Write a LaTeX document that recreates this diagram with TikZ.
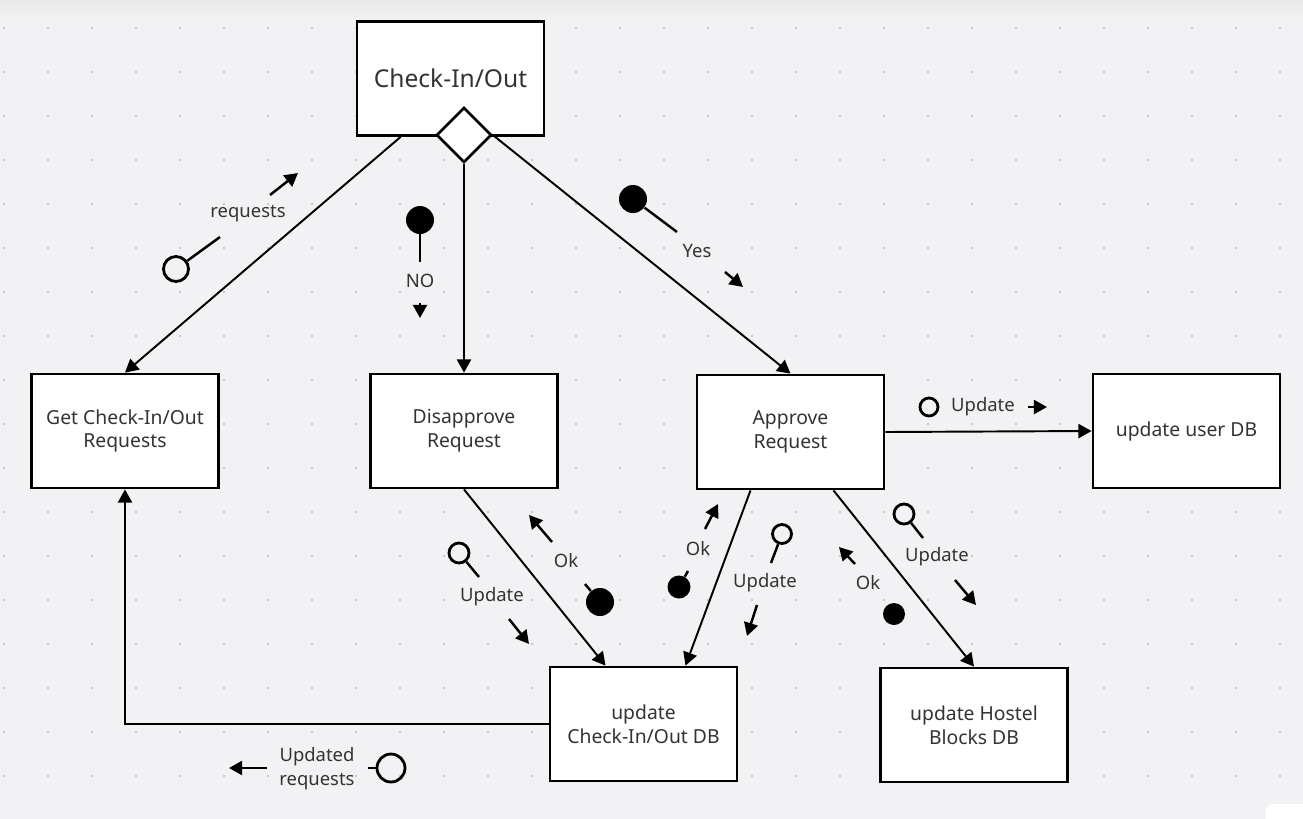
\documentclass[tikz,border=0pt]{standalone}
\usepackage{fontspec}
\setmainfont{Noto Sans}
\usetikzlibrary{arrows.meta,shapes.geometric,calc,positioning}
\definecolor{canvas}{HTML}{F2F2F4}
\definecolor{griddot}{HTML}{C8C8CA}
\definecolor{txt}{HTML}{333333}

\begin{document}
\begin{tikzpicture}[x=0.02cm,y=-0.02cm,
	box/.style={draw,line width=1.6pt,fill=white,minimum width=3.74cm,minimum height=2.28cm,
		align=center,text=txt,font=\fontsize{11}{13.6}\selectfont,inner sep=2pt},
	flow/.style={line width=1.1pt,-{Triangle[length=7.5pt,width=8pt]}},
	msg/.style={line width=1.4pt,-{Triangle[length=7.5pt,width=8pt]}},
	stem/.style={line width=1.4pt},
	lbl/.style={text=txt,font=\fontsize{10.5}{13.6}\selectfont,align=center,inner sep=1pt},
	hollow/.style={circle,draw,line width=1.6pt,inner sep=0pt},
	solid/.style={circle,fill=black,inner sep=0pt}]

\useasboundingbox (0,0) rectangle (1303,819);
\fill[canvas] (0,0) rectangle (1303,819);
\shade[top color=black!9,bottom color=canvas] (0,0) rectangle (1303,20);
\foreach \i in {0,...,29}
	\foreach \j in {0,...,17}
		\fill[griddot] (4+44*\i-1.3,28+44*\j-1.3) rectangle ++(2.6,2.6);
\fill[white,rounded corners=4pt] (1266,804) rectangle (1320,840);

% boxes
\node[box,font=\fontsize{14}{16}\selectfont] (chk) at (450.5,78.5) {Check-In/Out};
\node[diamond,draw,line width=1.5pt,fill=white,minimum size=1.1cm,inner sep=0pt] (dia) at (464,135) {};
\node[box] (get) at (125,431) {Get Check-In/Out\\Requests};
\node[box] (dis) at (464,431) {Disapprove\\Request};
\node[box] (app) at (790.5,432) {Approve\\Request};
\node[box] (usr) at (1186.5,431) {update user DB};
\node[box] (cdb) at (643.5,724) {update\\Check-In/Out DB};
\node[box] (hdb) at (974,725) {update Hostel\\Blocks DB};

% connectors
\draw[flow] ($(chk.south west)+(45,0)$) -- (get.north);
\draw[flow] (dia.south) -- (dis.north);
\draw[flow] (dia.east) -- (app.north);
\draw[flow] (app.east) -- (usr.west);
\draw[flow] (dis.south) -- ($(cdb.north)+(-38,0)$);
\draw[flow] ($(app.south)+(-40,0)$) -- ($(cdb.north)+(42,0)$);
\draw[flow] ($(app.south)+(43,0)$) -- (hdb.north);
\draw[flow] (cdb.west) -| (get.south);

% messages
\node[hollow,minimum size=0.5cm] (reqC) at (176,269) {};
\draw[stem] (reqC) -- (220,237);
\node[lbl] (reqT) at (248,214) {requests};
\draw[msg] (270,195) -- (298,173);

\node[solid,minimum size=0.56cm] (noC) at (420,220) {};
\draw[stem] (noC) -- (420,262);
\node[lbl] (noT) at (420,281) {NO};
\draw[msg] (420,303) -- (420,318);

\node[solid,minimum size=0.56cm] (yesC) at (633,199) {};
\draw[stem] (yesC) -- (677,232);
\node[lbl] (yesT) at (697,251) {Yes};
\draw[msg] (725,272) -- (743,287);

\node[hollow,minimum size=0.4cm] (upAC) at (459,553) {};
\draw[stem] (upAC) -- (479,577);
\node[lbl] (upAT) at (492,597) {Update};
\draw[msg] (509,619) -- (529,644);
\draw[msg] (552,542) -- (529,515);
\node[lbl] (okAT) at (566,561) {Ok};
\node[solid,minimum size=0.56cm] (okAC) at (600,602) {};
\draw[stem] (585,584) -- (okAC);

\draw[msg] (705,529) -- (718,504);
\node[lbl] (okBT) at (698,549) {Ok};
\node[solid,minimum size=0.46cm] (okBC) at (679,587) {};
\draw[stem] (688,571) -- (okBC);
\node[hollow,minimum size=0.38cm] (upBC) at (782,534) {};
\draw[stem] (upBC) -- (771,563);
\node[lbl] (upBT) at (765,583) {Update};
\draw[msg] (757,605) -- (747,636);

\node[hollow,minimum size=0.4cm] (upCC) at (904,514) {};
\draw[stem] (upCC) -- (923,538);
\node[lbl] (upCT) at (937,557) {Update};
\draw[msg] (955,580) -- (976,605);
\draw[msg] (855,564) -- (839,547);
\node[lbl] (okCT) at (868,583) {Ok};
\node[solid,minimum size=0.44cm] (okCC) at (894,614) {};

\node[hollow,minimum size=0.36cm] (upDC) at (929,407) {};
\node[lbl] (upDT) at (983,407) {Update};
\draw[msg] (1028,407) -- (1047,407);

\draw[msg] (267,768) -- (229,768);
\node[lbl] (updT) at (317,769) {Updated\\requests};
\node[hollow,minimum size=0.56cm] (updC) at (391,768) {};
\draw[stem] (368,768) -- (updC);
\end{tikzpicture}
\end{document}
